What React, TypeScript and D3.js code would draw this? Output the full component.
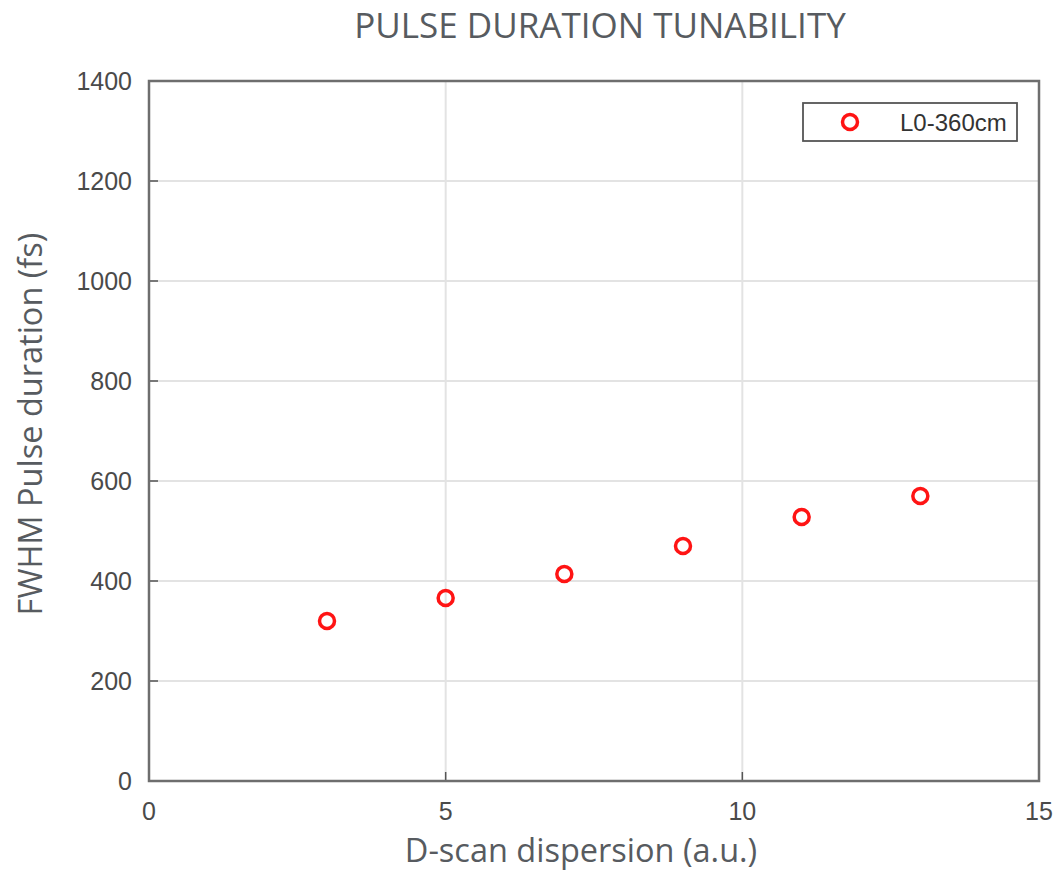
import React from 'react';
import * as d3 from 'd3';

const xValues = [3, 5, 7, 9, 11, 13];
const yValues = [320, 366, 414, 470, 528, 570];
const xTicks = [0, 5, 10, 15];
const yTicks = [0, 200, 400, 600, 800, 1000, 1200, 1400];
const seriesName = 'L0-360cm';
const title = 'PULSE DURATION TUNABILITY';
const xLabel = 'D-scan dispersion (a.u.)';
const yLabel = 'FWHM Pulse duration (fs)';

const W = 1061, H = 874;
const left = 149, right = 1039, top = 81, bottom = 781;

export default function App() {
  const x = d3.scaleLinear().domain([0, 15]).range([left, right]);
  const y = d3.scaleLinear().domain([0, 1400]).range([bottom, top]);
  const tickFont = 'Liberation Sans, Arial, sans-serif';
  const labelFont = '"Open Sans", "Noto Sans", sans-serif';
  const tickColor = '#4a4a4a';
  const labelColor = '#575b60';
  return (
    <svg width={W} height={H} style={{ position: 'absolute', left: 0, top: 0, background: '#fff' }}>
      <rect x={0} y={0} width={W} height={H} fill="#fff" />
      <rect x={left} y={top} width={right - left} height={bottom - top} fill="#fff" />
      {yTicks.filter(t => t > 0 && t < 1400).map(t => (
        <line key={'gy' + t} x1={left} x2={right} y1={y(t)} y2={y(t)} stroke="#e3e3e3" strokeWidth={2} />
      ))}
      {xTicks.filter(t => t > 0 && t < 15).map(t => (
        <line key={'gx' + t} x1={x(t)} x2={x(t)} y1={top} y2={bottom} stroke="#e3e3e3" strokeWidth={2} />
      ))}
      {yTicks.map(t => (
        <line key={'ty' + t} x1={left} x2={left + 9} y1={y(t)} y2={y(t)} stroke="#555" strokeWidth={1.5} />
      ))}
      {xTicks.map(t => (
        <line key={'tx' + t} x1={x(t)} x2={x(t)} y1={bottom} y2={bottom - 9} stroke="#555" strokeWidth={1.5} />
      ))}
      <rect x={left} y={top} width={right - left} height={bottom - top} fill="none" stroke="#6e6e6e" strokeWidth={2.5} />
      {yTicks.map(t => (
        <text key={'ly' + t} x={left - 17} y={y(t)} dy="0.36em" textAnchor="end" fontFamily={tickFont} fontSize={25} fill={tickColor}>
          {t}
        </text>
      ))}
      {xTicks.map(t => (
        <text key={'lx' + t} x={x(t)} y={bottom + 39} textAnchor="middle" fontFamily={tickFont} fontSize={25} fill={tickColor}>
          {t}
        </text>
      ))}
      {xValues.map((v, i) => (
        <circle key={'p' + i} cx={x(v)} cy={y(yValues[i])} r={7.5} fill="none" stroke="#ff1414" strokeWidth={3.5} />
      ))}
      <rect x={803} y={103} width={214} height={38} fill="#fff" stroke="#555" strokeWidth={1.8} />
      <circle cx={850} cy={122} r={7.5} fill="none" stroke="#ff1414" strokeWidth={3.5} />
      <text x={900} y={122} dy="0.36em" fontFamily={tickFont} fontSize={24} fill="#333">{seriesName}</text>
      <text x={600} y={38} textAnchor="middle" fontFamily={labelFont} fontSize={35} fill={labelColor}>{title}</text>
      <text x={581} y={862} textAnchor="middle" fontFamily={labelFont} fontSize={32.5} fill={labelColor}>{xLabel}</text>
      <text transform={`translate(42, 424) rotate(-90)`} textAnchor="middle" fontFamily={labelFont} fontSize={32.5} fill={labelColor}>{yLabel}</text>
    </svg>
  );
}
